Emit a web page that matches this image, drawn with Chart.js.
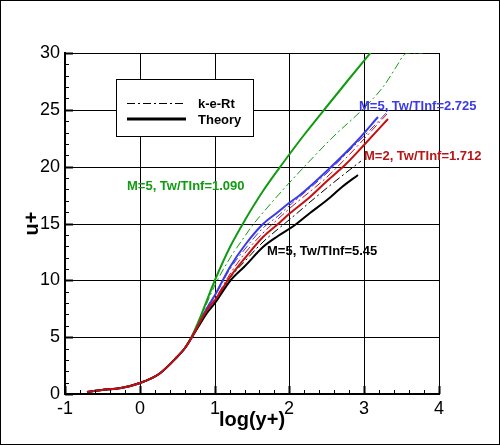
<!DOCTYPE html>
<html>
<head>
<meta charset="utf-8">
<script src="https://cdn.jsdelivr.net/npm/chart.js@4.4.1/dist/chart.umd.min.js"></script>
<style>
  html, body { margin: 0; padding: 0; background: #fff; }
  #wrap { width: 500px; height: 445px; }
</style>
</head>
<body>
<div id="wrap"><canvas id="myChart" width="500" height="445"></canvas></div>
<script>
// log(y+) and u+, one pair of arrays per curve
const wallX = [-0.7, -0.5, -0.25, 0, 0.25, 0.5, 0.6];
const wallY = [0.2, 0.32, 0.56, 1.0, 1.72, 3.25, 4.05];

const redTheoryX = [0.7, 0.8, 0.9, 1.0, 1.2, 1.4, 1.65, 1.85, 2.0, 2.27, 2.5, 2.75, 3.0, 3.32];
const redTheoryY = [5.0, 6.3, 7.35, 8.3, 10.3, 12.0, 13.8, 15.0, 15.8, 17.3, 18.7, 20.2, 21.9, 24.2];
const redKeX = [0.7, 0.8, 0.9, 1.0, 1.2, 1.4, 1.65, 1.85, 2.0, 2.5, 2.78, 3.0, 3.3];
const redKeY = [5.0, 6.3, 7.45, 8.4, 10.6, 12.4, 14.2, 15.4, 16.3, 19.1, 20.9, 22.4, 24.6];

const blackTheoryX = [0.7, 0.8, 0.9, 1.0, 1.2, 1.4, 1.65, 1.85, 2.07, 2.27, 2.5, 2.7, 2.92];
const blackTheoryY = [5.0, 6.2, 7.15, 8.0, 9.9, 11.3, 12.9, 13.9, 14.9, 15.9, 17.1, 18.2, 19.3];
const blackKeX = [0.7, 0.8, 0.9, 1.0, 1.2, 1.4, 1.65, 1.85, 2.0, 2.36, 2.58, 2.96];
const blackKeY = [5.0, 6.2, 7.25, 8.1, 10.2, 11.7, 13.4, 14.5, 15.3, 17.3, 18.6, 20.5];

const blueTheoryX = [0.7, 0.8, 0.9, 1.0, 1.2, 1.4, 1.65, 1.85, 2.0, 2.14, 2.56, 2.9, 3.19];
const blueTheoryY = [5.0, 6.35, 7.55, 8.7, 11.2, 13.1, 15.0, 16.0, 16.8, 17.5, 20.0, 22.3, 24.4];
const blueKeX = [0.7, 0.8, 0.9, 1.0, 1.2, 1.4, 1.65, 1.85, 2.0, 2.5, 2.81, 3.1, 3.33];
const blueKeY = [5.0, 6.3, 7.45, 8.6, 11.0, 12.8, 14.6, 15.7, 16.5, 19.4, 21.5, 23.4, 25.0];

const greenTheoryX = [0.7, 0.8, 0.9, 1.0, 1.2, 1.4, 1.65, 1.91, 2.2, 2.51, 2.8, 3.1];
const greenTheoryY = [5.1, 6.7, 8.3, 10.0, 12.9, 15.3, 17.9, 20.3, 22.8, 25.4, 27.7, 30.2];
const greenKeX = [0.7, 0.8, 0.9, 1.0, 1.2, 1.4, 1.5, 1.7, 1.89, 2.2, 2.6, 2.97, 3.25, 3.45, 3.52, 3.58, 3.78];
const greenKeY = [5.05, 6.5, 8.0, 9.6, 12.0, 13.9, 14.8, 16.4, 17.8, 20.0, 22.7, 25.0, 27.0, 29.0, 29.7, 30.0, 30.0];

const legendNames = ['k-e-Rt', 'Theory'];
const caseLabels = ['M=5, Tw/TInf=1.090', 'M=5, Tw/TInf=2.725', 'M=2, Tw/TInf=1.712', 'M=5, Tw/TInf=5.45'];
const labelX = [-0.174, 2.928, 2.995, 1.698];
const labelY = [18.3, 25.33, 20.93, 12.58];

const GREEN = '#129a12';
const BLUE = '#3a3ae6';
const RED = '#c41010';
const FONT = "'Liberation Sans', Arial, Helvetica, sans-serif";
const DASHDOT = [8, 3, 2, 3];
const labelColors = [GREEN, BLUE, '#b81515', '#000'];

function pts(xs, ys) {
    const all = wallX.map((x, i) => ({x: x, y: wallY[i]}));
    return all.concat(xs.map((x, i) => ({x: x, y: ys[i]})));
}

function curve(xs, ys, color, dashed) {
    return {
        data: pts(xs, ys),
        showLine: true,
        borderColor: color,
        borderWidth: dashed ? 1 : 2,
        borderDash: dashed ? DASHDOT : [],
        pointRadius: 0,
        cubicInterpolationMode: 'monotone',
        fill: false
    };
}

// first dataset ends up on top
const datasets = [
    curve(redTheoryX, redTheoryY, RED, false),
    curve(redKeX, redKeY, RED, true),
    curve(blackTheoryX, blackTheoryY, '#000', false),
    curve(blackKeX, blackKeY, '#000', true),
    curve(blueTheoryX, blueTheoryY, BLUE, false),
    curve(blueKeX, blueKeY, BLUE, true),
    curve(greenTheoryX, greenTheoryY, GREEN, false),
    curve(greenKeX, greenKeY, GREEN, true)
];

const decor = {
    id: 'decor',
    afterDraw(chart) {
        const c = chart.ctx;
        const xs = chart.scales.x, ys = chart.scales.y;
        const a = chart.chartArea;
        c.save();
        c.strokeStyle = '#000';

        // inward ticks on left and bottom axes
        for (let i = 0; i <= 25; i++) {
            const px = Math.round(xs.getPixelForValue(-1 + i * 0.2)) + 0.5;
            const major = i % 5 === 0;
            c.lineWidth = major ? 2 : 1;
            c.beginPath();
            c.moveTo(px, a.bottom);
            c.lineTo(px, a.bottom - (major ? 8 : 4));
            c.stroke();
        }
        for (let i = 0; i <= 30; i++) {
            const py = Math.round(ys.getPixelForValue(i)) + 0.5;
            const major = i % 5 === 0;
            c.lineWidth = major ? 2 : 1;
            c.beginPath();
            c.moveTo(a.left, py);
            c.lineTo(a.left + (major ? 8 : 4), py);
            c.stroke();
        }

        // legend box
        c.lineWidth = 1;
        c.fillStyle = '#fff';
        c.fillRect(116, 79, 137, 57);
        c.strokeRect(116.5, 79.5, 137, 57);
        c.beginPath();
        c.setLineDash(DASHDOT);
        c.moveTo(127, 103.5);
        c.lineTo(186, 103.5);
        c.stroke();
        c.setLineDash([]);
        c.lineWidth = 3;
        c.beginPath();
        c.moveTo(127, 119);
        c.lineTo(186, 119);
        c.stroke();
        c.fillStyle = '#000';
        c.font = 'bold 13px ' + FONT;
        c.textBaseline = 'middle';
        c.textAlign = 'left';
        c.fillText(legendNames[0], 198, 104);
        c.fillText(legendNames[1], 198, 120);

        // case labels
        caseLabels.forEach((t, i) => {
            c.fillStyle = labelColors[i];
            c.fillText(t, xs.getPixelForValue(labelX[i]), ys.getPixelForValue(labelY[i]));
        });

        // outer frame
        c.lineWidth = 1;
        c.strokeStyle = '#000';
        c.strokeRect(0.5, 0.5, 499, 444);
        c.restore();
    }
};

Chart.defaults.font.family = FONT;
Chart.defaults.color = '#000';

var ctx = document.getElementById('myChart');
var myChart = new Chart(ctx, {
    type: 'scatter',
    data: { datasets: datasets },
    options: {
        responsive: false,
        animation: false,
        devicePixelRatio: 1,
        layout: { padding: { top: 53, right: 61, left: 0, bottom: 0 } },
        plugins: { legend: { display: false }, tooltip: { enabled: false } },
        scales: {
            x: {
                type: 'linear', min: -1, max: 4, alignToPixels: true,
                afterFit: function (s) { s.height = 51; },
                ticks: { stepSize: 1, color: '#000', font: { size: 18 }, padding: 4 },
                grid: { color: '#000', lineWidth: 1, drawTicks: false },
                border: { color: '#000', width: 2 },
                title: { display: true, text: 'log(y+)', color: '#000',
                         font: { size: 20, weight: 'bold' }, padding: { top: 0, bottom: 13 } }
            },
            y: {
                type: 'linear', min: 0, max: 30, alignToPixels: true,
                afterFit: function (s) { s.width = 65; },
                ticks: { stepSize: 5, color: '#000', font: { size: 18 }, padding: 5 },
                grid: { color: '#000', lineWidth: 1, drawTicks: false },
                border: { color: '#000', width: 2 },
                title: { display: true, text: 'u+', color: '#000',
                         font: { size: 20, weight: 'bold' }, padding: { top: 20, bottom: 0 } }
            }
        }
    },
    plugins: [decor]
});
</script>
</body>
</html>
